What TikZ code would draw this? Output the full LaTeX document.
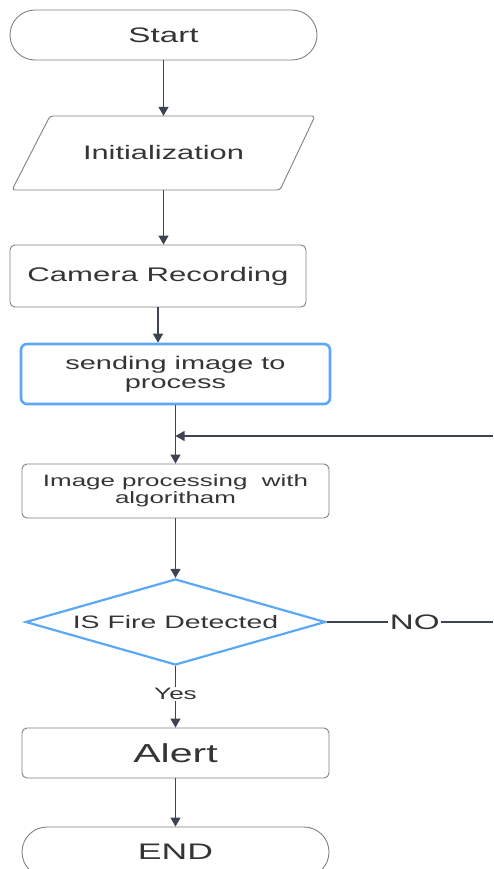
\documentclass[tikz,border=0pt]{standalone}
\usepackage{fontspec}
\setmainfont{Liberation Sans}
\newfontfamily\widefont[FakeStretch=1.58]{Liberation Sans}
\usetikzlibrary{arrows.meta,shapes.geometric}
\definecolor{lncol}{HTML}{3D4350}
\definecolor{bdcol}{HTML}{808080}
\definecolor{blcol}{HTML}{5AA8F6}
\definecolor{txcol}{HTML}{353535}
\newcommand{\fsz}[2]{\fontsize{#1}{#2}\selectfont}
\tikzset{
  every node/.style={text=txcol},
  boxstyle/.style={draw=bdcol, line width=0.9pt, rounded corners=5pt, rectangle, inner sep=0pt, align=center},
  termstyle/.style={draw=bdcol, line width=0.9pt, rounded corners=25pt, rectangle, inner sep=0pt, align=center},
  bluebox/.style={draw=blcol, line width=2.6pt, rounded corners=6pt, rectangle, inner sep=0pt, align=center},
  conn/.style={draw=lncol, line width=1.3pt, -{Triangle[length=9pt,width=10pt]}},
  plainconn/.style={draw=lncol, line width=1.3pt},
  lbl/.style={fill=white, inner sep=1.5pt}
}
\begin{document}
\begin{tikzpicture}[x=1pt,y=-1pt]
\useasboundingbox (0,0) rectangle (493,869);
\clip (0,0) rectangle (493,869);
% Start
\node[termstyle, minimum width=307pt, minimum height=50pt, font={\widefont\fsz{21}{24}}] (start) at (163.5,35) {Start};
% Initialization (parallelogram)
\node[inner sep=0pt, minimum width=268pt, minimum height=74pt, font={\widefont\fsz{19.5}{22}}] (init) at (163.5,153) {Initialization};
\draw[draw=bdcol, line width=0.9pt, rounded corners=3pt] (50,116) -- (315,116) -- (280,190) -- (12,190) -- cycle;
% Camera Recording
\node[boxstyle, minimum width=296pt, minimum height=62pt, font={\widefont\fsz{19.7}{22}}] (cam) at (158,276) {Camera Recording};
% sending image to process
\node[bluebox, minimum width=309pt, minimum height=60pt, font={\widefont\fsz{18.3}{19}}] (send) at (175.5,374) {sending image to\\process};
% Image processing
\node[boxstyle, minimum width=307pt, minimum height=54pt, font={\widefont\fsz{16.4}{17}}] (proc) at (175.5,491) {Image processing\ \ with\\algoritham};
% Decision
\node[diamond, draw=blcol, line width=2.2pt, inner sep=0pt, aspect=3.49, minimum width=300pt, minimum height=86pt, font={\widefont\fsz{18}{20}}] (dia) at (175.5,622) {IS Fire Detected};
% Alert
\node[boxstyle, minimum width=307pt, minimum height=50pt, font={\widefont\fsz{26}{28}}] (alert) at (175.5,753) {Alert};
% END
\node[termstyle, minimum width=307pt, minimum height=50pt, font={\widefont\fsz{22.5}{25}}] (endn) at (175.5,852) {END};
% right-side coordinates
\coordinate (fbR) at (493,436);
\coordinate (noR) at (493,622);
% connectors
\draw[conn] (start.south) -- (start.south |- init.north);
\draw[conn] (init.south) -- (init.south |- cam.north);
\draw[conn] (cam.south) -- (cam.south |- send.north);
\draw[conn] (send.south) -- (proc.north);
\draw[conn] (fbR) -- (fbR -| send.south);
\draw[conn] (proc.south) -- (dia.north);
\draw[plainconn] (dia.east) -- node[lbl, pos=0.53, font={\widefont\fsz{21}{22}}]{NO} (noR);
\draw[conn] (dia.south) -- node[lbl, pos=0.45, font={\widefont\fsz{16.5}{18}}]{Yes} (alert.north);
\draw[conn] (alert.south) -- (endn.north);
\end{tikzpicture}
\end{document}
